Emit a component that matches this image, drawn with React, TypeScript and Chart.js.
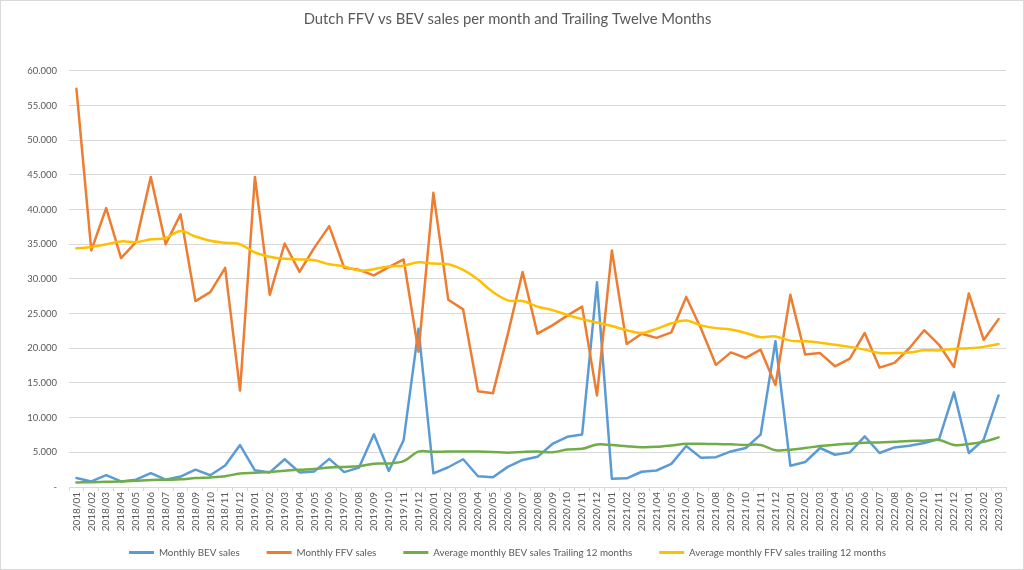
import React, { useEffect, useRef } from "react";
import { Chart, registerables } from "chart.js";

Chart.register(...registerables);

const categories: string[] = [
  "2018/01", "2018/02", "2018/03", "2018/04", "2018/05", "2018/06", "2018/07", "2018/08", "2018/09", "2018/10", "2018/11", "2018/12",
  "2019/01", "2019/02", "2019/03", "2019/04", "2019/05", "2019/06", "2019/07", "2019/08", "2019/09", "2019/10", "2019/11", "2019/12",
  "2020/01", "2020/02", "2020/03", "2020/04", "2020/05", "2020/06", "2020/07", "2020/08", "2020/09", "2020/10", "2020/11", "2020/12",
  "2021/01", "2021/02", "2021/03", "2021/04", "2021/05", "2021/06", "2021/07", "2021/08", "2021/09", "2021/10", "2021/11", "2021/12",
  "2022/01", "2022/02", "2022/03", "2022/04", "2022/05", "2022/06", "2022/07", "2022/08", "2022/09", "2022/10", "2022/11", "2022/12",
  "2023/01", "2023/02", "2023/03",
];

const bevMonthly: number[] = [
  1300, 800, 1700, 800, 1050, 2000, 1050, 1500, 2500, 1700, 3100, 6050,
  2400, 2100, 4000, 2100, 2250, 4050, 2150, 2800, 7600, 2300, 6750, 22800,
  1950, 2850, 4000, 1550, 1400, 2900, 3900, 4350, 6200, 7230, 7570, 29500,
  1180, 1250, 2200, 2380, 3340, 5900, 4200, 4300, 5130, 5620, 7540, 21000,
  3070, 3600, 5620, 4650, 4990, 7300, 4900, 5710, 5950, 6340, 6910, 13640,
  4900, 6820, 13200,
];

const ffvMonthly: number[] = [
  57400, 34100, 40200, 33000, 35300, 44700, 35000, 39300, 26800, 28100, 31600, 13900,
  44700, 27700, 35100, 31000, 34500, 37600, 31600, 31300, 30500, 31700, 32800, 19500,
  42400, 27000, 25600, 13800, 13500, 22000, 31000, 22100, 23300, 24700, 26000, 13200,
  34100, 20600, 22100, 21500, 22300, 27400, 22800, 17600, 19400, 18600, 19800, 14700,
  27700, 19100, 19300, 17400, 18500, 22200, 17200, 17900, 20000, 22600, 20500, 17300,
  27900, 21200, 24200,
];

const bevTrailing12: number[] = [
  650, 700, 750, 800, 900, 1000, 1050, 1100, 1300, 1380, 1550, 1950,
  2050, 2150, 2350, 2490, 2600, 2800, 2900, 3000, 3350, 3400, 3720, 5100,
  5070, 5100, 5100, 5100, 5050, 4950, 5050, 5100, 5000, 5400, 5500, 6120,
  6050, 5880, 5740, 5790, 5980, 6220, 6220, 6200, 6150, 6060, 6060, 5300,
  5380, 5620, 5900, 6100, 6250, 6380, 6430, 6530, 6630, 6680, 6780, 6060,
  6200, 6530, 7150,
];

const ffvTrailing12: number[] = [
  34400, 34600, 35000, 35400, 35300, 35700, 35900, 36900, 36100, 35500, 35200, 35000,
  33800, 33200, 32900, 32800, 32700, 32100, 31800, 31200, 31400, 31800, 31900, 32400,
  32200, 32100, 31300, 29900, 28100, 26900, 26800, 26000, 25500, 24800, 24200, 23700,
  23200, 22600, 22200, 22800, 23600, 24000, 23300, 22900, 22700, 22200, 21600, 21700,
  21100, 21000, 20800, 20500, 20200, 19800, 19300, 19300, 19400, 19700, 19700, 19900,
  20000, 20200, 20600,
];

const seriesNames: string[] = [
  "Monthly BEV sales",
  "Monthly FFV sales",
  "Average monthly BEV sales Trailing 12 months",
  "Average monthly FFV sales trailing 12 months",
];

const titleText = "Dutch FFV vs BEV sales per month and Trailing Twelve Months";

const FONT = "Lato, 'Open Sans', sans-serif";
const TEXT = "#595959";
const GRID = "#d9d9d9";

function formatTick(v: number | string): string {
  const n = Number(v);
  if (n === 0) return "-";
  return String(Math.round(n)).replace(/\B(?=(\d{3})+(?!\d))/g, ".");
}

export default function App() {
  const canvasRef = useRef<HTMLCanvasElement | null>(null);

  useEffect(() => {
    document.body.style.margin = "0";
    const canvas = canvasRef.current;
    if (!canvas) return;

    const lineBase = {
      borderWidth: 2.5,
      pointRadius: 0,
      pointHoverRadius: 0,
      borderJoinStyle: "round" as const,
      borderCapStyle: "round" as const,
      fill: false,
    };

    const chart = new Chart(canvas, {
      type: "line",
      data: {
        labels: categories,
        datasets: [
          { ...lineBase, label: seriesNames[0], data: bevMonthly, borderColor: "#5B9BD5", backgroundColor: "#5B9BD5", tension: 0, order: 3 },
          { ...lineBase, label: seriesNames[1], data: ffvMonthly, borderColor: "#ED7D31", backgroundColor: "#ED7D31", tension: 0, order: 2 },
          { ...lineBase, label: seriesNames[2], data: bevTrailing12, borderColor: "#70AD47", backgroundColor: "#70AD47", tension: 0.35, order: 1 },
          { ...lineBase, label: seriesNames[3], data: ffvTrailing12, borderColor: "#FFC000", backgroundColor: "#FFC000", tension: 0.35, order: 0 },
        ],
      },
      options: {
        responsive: false,
        animation: false,
        layout: { padding: { left: 8, right: 17, top: 0, bottom: 1.7 } },
        plugins: {
          title: {
            display: true,
            text: titleText,
            color: TEXT,
            font: { family: FONT, size: 14.8, weight: "normal" },
            padding: { top: 9, bottom: 43 },
          },
          legend: {
            position: "bottom",
            labels: {
              boxWidth: 25,
              boxHeight: 3,
              color: TEXT,
              font: { family: FONT, size: 9.8 },
              padding: 27,
              generateLabels: (c: any) => {
                const items = (Chart.defaults.plugins.legend.labels as any).generateLabels(c);
                return items
                  .sort((a: any, b: any) => a.datasetIndex - b.datasetIndex)
                  .map((it: any) => ({ ...it, fillStyle: it.strokeStyle, lineWidth: 0 }));
              },
            },
          },
          tooltip: { enabled: false },
        },
        scales: {
          x: {
            offset: true,
            grid: {
              display: true,
              drawOnChartArea: false,
              drawTicks: true,
              tickLength: 4,
              color: GRID,
              offset: true,
            },
            border: { color: GRID },
            ticks: {
              autoSkip: false,
              maxRotation: 90,
              minRotation: 90,
              color: TEXT,
              font: { family: FONT, size: 10 },
              padding: 1,
            },
            afterFit: (s: any) => {
              s.height = 33.5;
              // let the vertical month labels run into the empty space above the legend
              s._computeLabelArea = () => undefined;
            },
          },
          y: {
            min: 0,
            max: 60000,
            ticks: {
              stepSize: 5000,
              callback: (v: any) => formatTick(v),
              color: TEXT,
              font: { family: FONT, size: 9.5 },
              padding: 12,
            },
            grid: { color: GRID, drawTicks: false },
            border: { display: false },
            afterFit: (s: any) => {
              s.width = 60;
            },
          },
        },
      },
    });

    return () => chart.destroy();
  }, []);

  return (
    <div
      style={{
        width: 1024,
        height: 570,
        boxSizing: "border-box",
        border: "1px solid #d9d9d9",
        background: "#fff",
      }}
    >
      <canvas ref={canvasRef} width={1022} height={568} style={{ display: "block" }} />
    </div>
  );
}
